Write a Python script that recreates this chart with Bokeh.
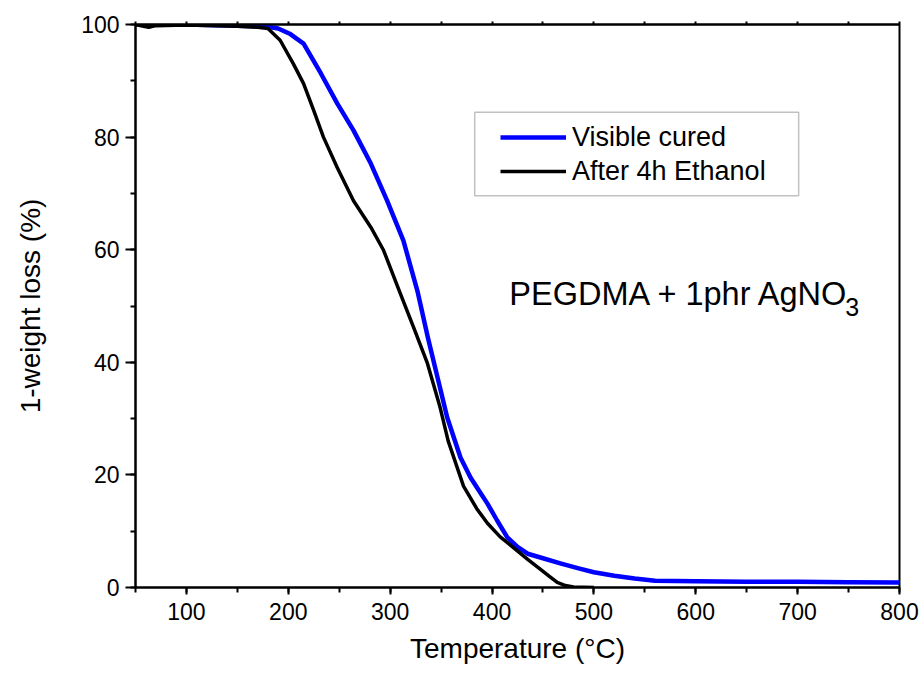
from bokeh.plotting import figure
from bokeh.models import (Range1d, LinearAxis, Legend, LegendItem, Label,
                          BoxAnnotation, FixedTicker)
from bokeh.embed import file_html
from bokeh.resources import INLINE

# ---- data ----
temp_visible = [50, 100, 150, 180, 190, 202, 215, 232, 248, 264, 281, 297, 313,
                327, 337, 346.5, 356, 369, 379, 389, 395.5, 405, 415, 425, 435,
                450, 467, 485, 500, 520, 540, 560, 600, 650, 700, 750, 800]
wt_visible = [100, 100, 99.8, 99.6, 99.3, 98.3, 96.6, 91.3, 86, 81.2, 75.3, 68.7,
              61.6, 52.5, 44.4, 37.3, 30.2, 23.1, 19.5, 16.7, 14.9, 11.9, 8.9,
              7.2, 6.0, 5.2, 4.3, 3.4, 2.7, 2.1, 1.6, 1.2, 1.1, 1.0, 1.0, 0.95, 0.9]

temp_ethanol = [50, 58, 63, 70, 100, 150, 170, 180, 192, 205, 215, 225, 234.5,
                248, 264, 281, 293.5, 310, 323, 336.6, 349, 357, 372, 385, 395.5,
                408, 421, 435, 447.6, 456, 464, 472, 480, 500]
wt_ethanol = [100, 99.7, 99.5, 99.8, 99.9, 99.7, 99.5, 99.3, 97.2, 93, 89.5, 84.7,
              80, 74.6, 68.7, 64, 59.9, 52.2, 46.2, 39.8, 32, 26, 18, 14, 11.4,
              9.0, 7.1, 5.0, 3.2, 2.0, 0.9, 0.35, 0.1, 0.0]

series_names = ["Visible cured", "After 4h Ethanol"]
x_ticks = [100, 200, 300, 400, 500, 600, 700, 800]
y_ticks = [0, 20, 40, 60, 80, 100]

FONT = "Liberation Sans"

p = figure(width=923, height=677, output_backend="svg", toolbar_location=None,
           x_range=Range1d(50, 800), y_range=Range1d(0, 100),
           min_border_left=135, min_border_right=24, min_border_top=24,
           min_border_bottom=90)
p.grid.visible = False
p.outline_line_color = "black"
p.outline_line_width = 2
p.background_fill_color = "white"
p.border_fill_color = "white"

r_vis = p.line(temp_visible, wt_visible, line_color="#0000FF", line_width=4.5,
               line_join="round")
r_eth = p.line(temp_ethanol, wt_ethanol, line_color="black", line_width=3.5,
               line_join="round")

# bottom axis
xa = p.xaxis[0]
xa.ticker = FixedTicker(ticks=x_ticks, minor_ticks=list(range(50, 801, 50)))
xa.axis_label = "Temperature (°C)"
ya = p.yaxis[0]
ya.ticker = FixedTicker(ticks=y_ticks, minor_ticks=list(range(0, 101, 10)))
ya.axis_label = "1-weight loss (%)"

for ax in (xa, ya):
    ax.axis_line_width = 2
    ax.major_tick_line_width = 2
    ax.minor_tick_line_width = 2
    ax.major_tick_in = 0
    ax.minor_tick_in = 0
    ax.major_label_text_font = FONT
    ax.major_label_text_font_size = "23px"
    ax.major_label_text_color = "black"
    ax.axis_label_text_font = FONT
    ax.axis_label_text_font_size = "28px"
    ax.axis_label_text_font_style = "normal"
    ax.axis_label_text_color = "black"

xa.major_tick_out = 7
xa.minor_tick_out = 5
xa.major_label_standoff = 8
xa.axis_label_standoff = 10
ya.major_tick_out = 10
ya.minor_tick_out = 5
ya.major_label_standoff = 6
ya.axis_label_standoff = 32

# top axis: small tick marks only (minor ticks carry no labels)
top = LinearAxis(ticker=FixedTicker(ticks=[], minor_ticks=list(range(50, 801, 50))),
                 axis_line_width=2, major_tick_in=0, major_tick_out=0,
                 minor_tick_in=0, minor_tick_out=3, minor_tick_line_width=2)
p.add_layout(top, "above")

# legend frame
p.add_layout(BoxAnnotation(left=383, right=701, bottom=69.6, top=84.4,
                           fill_alpha=0, line_color="#333333", line_width=1.5))

legend = Legend(items=[LegendItem(label=series_names[0], renderers=[r_vis]),
                       LegendItem(label=series_names[1], renderers=[r_eth])],
                location=(365, 399), padding=0, margin=0, spacing=0,
                glyph_width=66, glyph_height=20, label_height=34,
                label_standoff=6, label_text_font=FONT,
                label_text_font_size="27px", label_text_color="black",
                border_line_alpha=0, background_fill_alpha=0)
p.add_layout(legend)

# annotation text
p.add_layout(Label(x=417, y=52.1, text="PEGDMA + 1phr AgNO", text_font=FONT,
                   text_font_size="32.5px", text_color="black",
                   text_baseline="alphabetic"))
p.add_layout(Label(x=417, y=52.1, x_offset=336, y_offset=-13, text="3",
                   text_font=FONT, text_font_size="25px", text_color="black",
                   text_baseline="alphabetic"))

open("out.html", "w").write(file_html(p, INLINE))
